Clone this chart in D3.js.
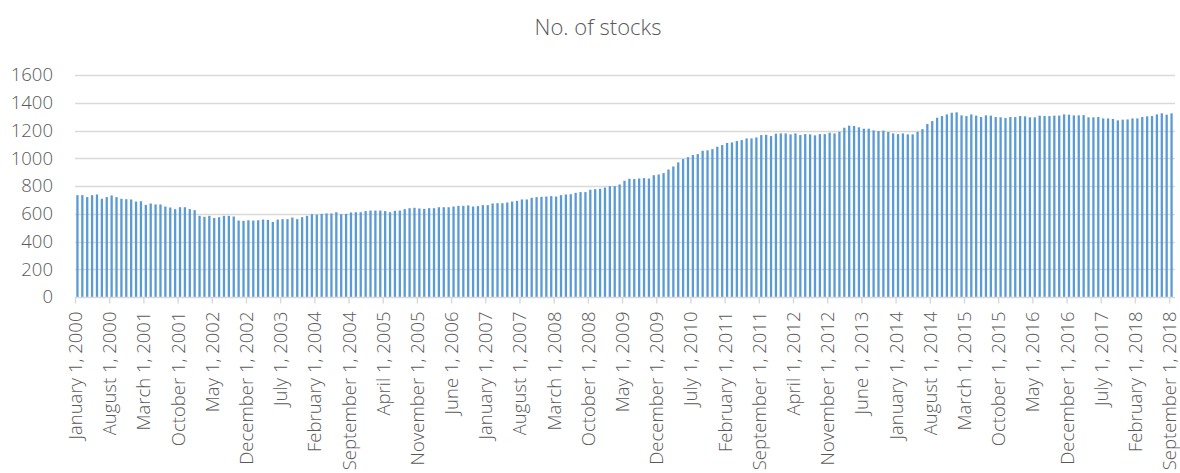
<!DOCTYPE html>
<html>
<head>
<meta charset="utf-8">
<script src="https://cdn.jsdelivr.net/npm/d3@7"></script>
<style>
  html, body { margin: 0; padding: 0; background: #fff; }
  svg { display: block; }
  text { font-family: "Open Sans", sans-serif; font-weight: 300; fill: #595959; }
</style>
</head>
<body>
<svg id="chart" width="1180" height="473"></svg>
<script>
// ---- data ----
const chartTitle = "No. of stocks";
// monthly number of stocks, Jan 2000 .. Sep 2018
const values2000_2003 = [
  734, 734, 720, 734, 739, 708, 720, 732, 720, 708, 705, 703,
  688, 690, 664, 674, 667, 667, 652, 645, 633, 647, 647, 633,
  626, 585, 578, 585, 570, 575, 585, 585, 580, 551, 549, 553,
  551, 553, 558, 556, 541, 558, 561, 561, 573, 561, 575, 585
];
const values2004_2007 = [
  597, 594, 599, 602, 602, 611, 597, 599, 609, 611, 611, 619,
  623, 623, 623, 619, 611, 621, 623, 633, 640, 643, 638, 635,
  640, 640, 647, 647, 647, 652, 657, 657, 660, 652, 655, 662,
  662, 674, 676, 676, 681, 688, 693, 703, 703, 715, 720, 722
];
const values2008_2011 = [
  724, 727, 724, 734, 739, 741, 751, 756, 756, 773, 777, 780,
  789, 799, 799, 811, 838, 852, 850, 854, 857, 854, 878, 883,
  893, 919, 941, 970, 994, 1008, 1023, 1030, 1054, 1057, 1066, 1083,
  1095, 1110, 1114, 1124, 1131, 1143, 1143, 1150, 1167, 1169, 1160, 1177
];
const values2012_2015 = [
  1179, 1179, 1172, 1179, 1167, 1174, 1172, 1165, 1174, 1174, 1184, 1179,
  1191, 1220, 1235, 1232, 1223, 1213, 1213, 1201, 1196, 1199, 1189, 1179,
  1174, 1179, 1172, 1172, 1191, 1210, 1247, 1268, 1292, 1304, 1316, 1328,
  1331, 1309, 1304, 1316, 1307, 1297, 1309, 1307, 1297, 1295, 1290, 1297
];
const values2016_2018 = [
  1297, 1304, 1302, 1295, 1295, 1307, 1304, 1304, 1307, 1307, 1316, 1314,
  1309, 1309, 1311, 1295, 1295, 1297, 1287, 1287, 1283, 1273, 1278, 1280,
  1287, 1287, 1297, 1302, 1304, 1316, 1324, 1314, 1324
];
const values = [].concat(values2000_2003, values2004_2007, values2008_2011, values2012_2015, values2016_2018);

const tickLabels = [
  "January 1, 2000", "August 1, 2000", "March 1, 2001", "October 1, 2001",
  "May 1, 2002", "December 1, 2002", "July 1, 2003", "February 1, 2004",
  "September 1, 2004", "April 1, 2005", "November 1, 2005", "June 1, 2006",
  "January 1, 2007", "August 1, 2007", "March 1, 2008", "October 1, 2008",
  "May 1, 2009", "December 1, 2009", "July 1, 2010", "February 1, 2011",
  "September 1, 2011", "April 1, 2012", "November 1, 2012", "June 1, 2013",
  "January 1, 2014", "August 1, 2014", "March 1, 2015", "October 1, 2015",
  "May 1, 2016", "December 1, 2016", "July 1, 2017", "February 1, 2018",
  "September 1, 2018"
];
const tickEvery = 7; // months between labels
const yTicks = [0, 200, 400, 600, 800, 1000, 1200, 1400, 1600];

// ---- chart ----
(function () {
const svg = d3.select("#chart");
const pLeft = 75, pRight = 1174, pTop = 75, pBottom = 297;

const x = d3.scaleLinear().domain([0, values.length]).range([pLeft, pRight]);
const y = d3.scaleLinear().domain([0, 1600]).range([pBottom, pTop]);
const step = x(1) - x(0);
const barW = 2.3;

// title
svg.append("text")
  .attr("x", 598).attr("y", 35)
  .attr("text-anchor", "middle")
  .style("font-size", "22px")
  .text(chartTitle);

// gridlines
svg.append("g").selectAll("line").data(yTicks.slice(1)).join("line")
  .attr("x1", pLeft).attr("x2", pRight + 1)
  .attr("y1", d => Math.round(y(d)) + 0.5).attr("y2", d => Math.round(y(d)) + 0.5)
  .attr("stroke", "#d9d9d9").attr("stroke-width", 1.4);

// y axis labels
const yAxis = svg.append("g")
  .attr("transform", `translate(${pLeft - 22},0)`)
  .call(d3.axisLeft(y).tickValues(yTicks).tickSize(0).tickPadding(0).tickFormat(d3.format("d")));
yAxis.select(".domain").remove();
yAxis.selectAll("text")
  .style("font-size", "18.5px")
  .style("font-family", "'Open Sans', sans-serif")
  .attr("fill", "#595959");

// bars
svg.append("g").selectAll("rect").data(values).join("rect")
  .attr("x", (d, i) => x(i) + (step - barW) / 2)
  .attr("width", barW)
  .attr("y", d => y(d))
  .attr("height", d => pBottom - y(d))
  .attr("fill", "#5b9bd5");

// x axis
const tickIdx = tickLabels.map((_, k) => k * tickEvery);
const xAxis = svg.append("g")
  .attr("transform", `translate(0,${pBottom + 0.5})`)
  .call(d3.axisBottom(x).tickValues(tickIdx).tickSize(6).tickSizeOuter(0)
    .tickFormat((d, k) => tickLabels[k]));
xAxis.select(".domain").attr("stroke", "#d9d9d9").attr("stroke-width", 1.4)
  .attr("d", `M${pLeft},0H${pRight + 1}`);
xAxis.selectAll(".tick line").attr("stroke", "#d9d9d9").attr("stroke-width", 1.4);
xAxis.selectAll(".tick text")
  .style("font-size", "18.5px")
  .style("font-family", "'Open Sans', sans-serif")
  .attr("fill", "#595959")
  .attr("text-anchor", "end")
  .attr("transform", "rotate(-90)")
  .attr("x", -14)
  .attr("y", 0)
  .attr("dy", "0.35em");
})();
</script>
</body>
</html>
